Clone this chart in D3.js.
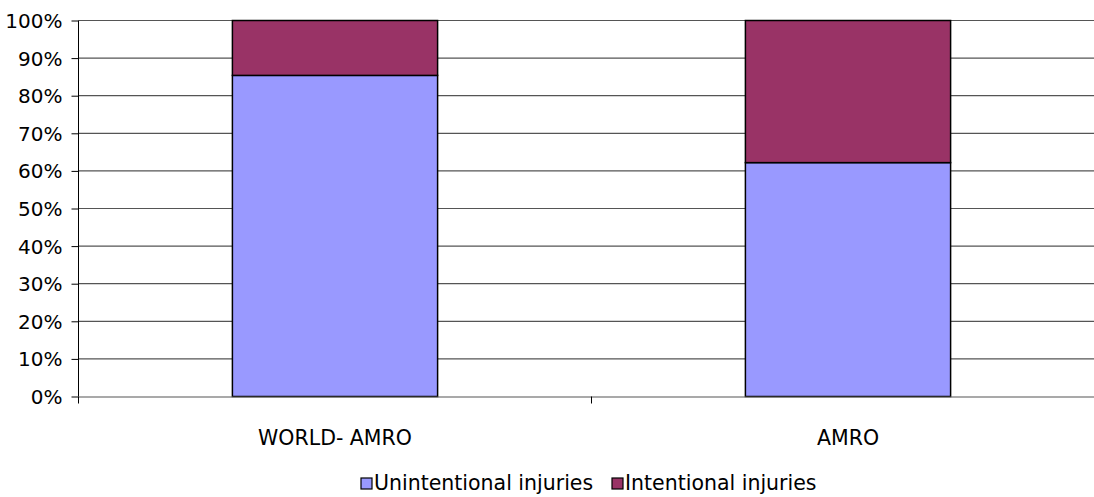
<!DOCTYPE html>
<html><head><meta charset="utf-8">
<script src="https://cdn.jsdelivr.net/npm/d3@7"></script>
<style>body{margin:0;background:#fff;} svg{display:block;} text{font-family:"DejaVu Sans",Verdana,sans-serif;fill:#000;}</style>
</head><body><svg id="c" width="1094" height="497"></svg>
<script>
const categories = ["WORLD- AMRO", "AMRO"];
const seriesNames = ["Unintentional injuries", "Intentional injuries"];
const unintentional = [85.4, 62.2];
const intentional = [14.6, 37.8];
const yTicks = [0,10,20,30,40,50,60,70,80,90,100];
const colors = ["#9999FF", "#993366"];

const svg = d3.select("#c");
const L = 78.5, R = 1104.5, T = 20.5, B = 396.5;
const x = d3.scaleBand().domain(categories).range([L, R]).paddingInner(0.6).paddingOuter(0.3);
const y = d3.scaleLinear().domain([0, 100]).range([B, T]);

// gridlines
svg.append("g").selectAll("line").data(yTicks.slice(1)).join("line")
  .attr("x1", L).attr("x2", R).attr("y1", d => y(d)).attr("y2", d => y(d))
  .attr("stroke", "#555").attr("stroke-width", 1.2);

// stacked bars
const rows = categories.map((c, i) => ({cat: c, s0: unintentional[i], s1: intentional[i]}));
const stack = d3.stack().keys(["s0", "s1"])(rows);
svg.append("g").selectAll("g").data(stack).join("g")
  .attr("fill", (d, i) => colors[i])
  .selectAll("rect").data(d => d).join("rect")
  .attr("x", d => x(d.data.cat)).attr("width", x.bandwidth())
  .attr("y", d => y(d[1])).attr("height", d => y(d[0]) - y(d[1]))
  .attr("stroke", "#000").attr("stroke-width", 1.5);

// y axis
const ya = d3.axisLeft(y).tickValues(yTicks).tickFormat(d => d + "%").tickSize(7).tickPadding(9);
const gy = svg.append("g").attr("transform", `translate(${L},0)`).call(ya);
gy.select(".domain").attr("stroke", "#000").attr("d", `M0,${T}V${B}`);
gy.selectAll(".tick line").attr("stroke", "#000");
gy.selectAll("text").style("font-size", "20px").attr("dy", "0.35em");

// x axis
const xa = d3.axisBottom(x).tickSize(0).tickPadding(34);
const gx = svg.append("g").attr("transform", `translate(0,${B})`).call(xa);
gx.select(".domain").attr("stroke", "#555").attr("stroke-width", 1.2);
gx.selectAll("text").style("font-size", "20.5px");
// category separator ticks
const seps = [L + x.step() * 0, L + x.step() * 1, L + x.step() * 2];
svg.append("g").selectAll("line").data(seps).join("line")
  .attr("x1", d => d).attr("x2", d => d).attr("y1", B).attr("y2", B + 7)
  .attr("stroke", "#000");

// legend
const lg = svg.append("g");
const positions = [361, 612];
seriesNames.forEach((n, i) => {
  lg.append("rect").attr("x", positions[i]).attr("y", 478).attr("width", 11).attr("height", 11)
    .attr("fill", colors[i]).attr("stroke", "#000").attr("stroke-width", 1.2);
  lg.append("text").attr("x", positions[i] + 13).attr("y", 490).text(n).style("font-size", "20.5px");
});
</script></body></html>
